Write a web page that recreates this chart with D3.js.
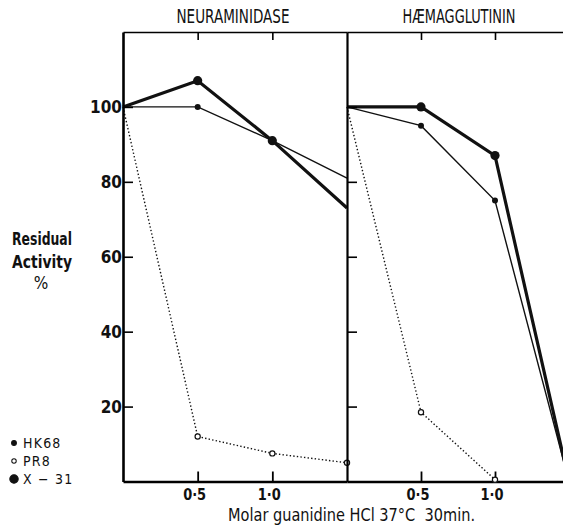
<!DOCTYPE html>
<html>
<head>
<meta charset="utf-8">
<script src="https://cdnjs.cloudflare.com/ajax/libs/d3/7.8.5/d3.min.js"></script>
<style>
  body { margin: 0; background: #fff; }
  svg { display: block; }
  text { font-family: "Liberation Sans Narrow", "DejaVu Sans Condensed", sans-serif; fill: #111; }
</style>
</head>
<body>
<div id="chart"></div>
<script>
// molar guanidine HCl
var doses = [0, 0.5, 1.0, 1.5];
var xTicks = [0.5, 1.0];
var yTicks = [20, 40, 60, 80, 100];

// neuraminidase, % residual activity
var naHK68 = [100, 100, 91, 81];
var naPR8 = [100, 12, 7.5, 5];
var naX31 = [100, 107, 91, 73];

// haemagglutinin
var haHK68 = [100, 95, 75, 0];
var haPR8 = [100, 18.5, 0.5];
var haX31 = [100, 100, 87, 0];

var panels = [
  { title: "NEURAMINIDASE", cx: 233, left: 123, right: 347, hk: naHK68, pr: naPR8, x31: naX31 },
  { title: "HÆMAGGLUTININ", cx: 459, left: 347, right: 569, hk: haHK68, pr: haPR8, x31: haX31 }
];

var width = 563, height = 526;
var plotTop = 32, plotBottom = 481.5;

var svg = d3.select("#chart").append("svg")
  .attr("width", width)
  .attr("height", height);

var y = d3.scaleLinear().domain([0, 120]).range([plotBottom, plotTop]);

function fmt(d) { return d3.format(".1f")(d).replace(".", "·"); }

panels.forEach(function(p, i) {
  var x = d3.scaleLinear().domain([0, 1.5]).range([p.left, p.right]);
  var g = svg.append("g");

  // top axis, ticks pointing down
  g.append("g")
    .attr("transform", "translate(0," + plotTop + ")")
    .call(d3.axisBottom(x).tickValues(xTicks).tickSize(8).tickSizeOuter(0).tickFormat(""))
    .call(function(a) {
      a.select(".domain").attr("stroke-width", 1.6);
      a.selectAll(".tick line").attr("stroke-width", 1.6);
    });

  // bottom axis, ticks pointing up
  g.append("g")
    .attr("transform", "translate(0," + plotBottom + ")")
    .call(d3.axisTop(x).tickValues(xTicks).tickSize(10).tickSizeOuter(0).tickFormat(""))
    .call(function(a) {
      a.select(".domain").attr("stroke-width", 2.6);
      a.selectAll(".tick line").attr("stroke-width", 1.8);
    });

  g.selectAll(".xlab")
    .data(xTicks)
    .enter().append("text")
    .attr("x", function(d) { return x(d) - 3; })
    .attr("y", 500)
    .attr("text-anchor", "middle")
    .attr("font-size", 16)
    .attr("font-weight", "bold")
    .attr("textLength", 23)
    .attr("lengthAdjust", "spacingAndGlyphs")
    .text(fmt);

  // title
  g.append("text")
    .attr("x", p.cx)
    .attr("y", 23)
    .attr("text-anchor", "middle")
    .attr("font-size", 20)
    .attr("textLength", 113)
    .attr("lengthAdjust", "spacingAndGlyphs")
    .text(p.title);

  var line = d3.line()
    .x(function(d, j) { return x(doses[j]); })
    .y(function(d) { return y(d); });

  // PR8: dotted, open circles
  g.append("path")
    .datum(p.pr)
    .attr("fill", "none")
    .attr("stroke", "#111")
    .attr("stroke-width", 1.4)
    .attr("stroke-dasharray", "1.4,2.2")
    .attr("d", line);
  g.selectAll(".pr")
    .data(p.pr.slice(1))
    .enter().append("circle")
    .attr("cx", function(d, j) { return x(doses[j + 1]); })
    .attr("cy", function(d) { return y(d); })
    .attr("r", 2.6)
    .attr("fill", "#fff")
    .attr("stroke", "#111")
    .attr("stroke-width", 1.2);

  // HK68: thin, small dots
  g.append("path")
    .datum(p.hk)
    .attr("fill", "none")
    .attr("stroke", "#111")
    .attr("stroke-width", 1.4)
    .attr("d", line);
  g.selectAll(".hk")
    .data(p.hk.slice(1, 3))
    .enter().append("circle")
    .attr("cx", function(d, j) { return x(doses[j + 1]); })
    .attr("cy", function(d) { return y(d); })
    .attr("r", 3)
    .attr("fill", "#111");

  // X-31: thick, big dots
  g.append("path")
    .datum(p.x31)
    .attr("fill", "none")
    .attr("stroke", "#111")
    .attr("stroke-width", 3.2)
    .attr("d", line);
  g.selectAll(".x31")
    .data(p.x31.slice(1, 3))
    .enter().append("circle")
    .attr("cx", function(d, j) { return x(doses[j + 1]); })
    .attr("cy", function(d) { return y(d); })
    .attr("r", 4.6)
    .attr("fill", "#111");
});

// left axis, ticks inward, labels outside
svg.append("g")
  .attr("transform", "translate(123,0)")
  .call(d3.axisLeft(y).tickValues(yTicks).tickSize(-10).tickSizeOuter(0).tickPadding(12).tickFormat(d3.format("d")))
  .call(function(a) {
    a.select(".domain").attr("stroke-width", 2.6);
    a.selectAll(".tick line").attr("stroke-width", 1.6);
    a.selectAll(".tick text")
      .attr("x", -1)
      .attr("font-size", 17)
      .attr("font-weight", "bold")
      .attr("font-family", "Liberation Sans Narrow, DejaVu Sans Condensed, sans-serif")
      .attr("fill", "#111");
  });

// middle divider and right edge with crossing ticks
[347, 569].forEach(function(m) {
  var a = svg.append("g").attr("transform", "translate(" + m + ",0)");
  a.call(d3.axisLeft(y).tickValues(yTicks).tickSize(10).tickSizeOuter(0).tickFormat(""));
  a.call(d3.axisRight(y).tickValues(yTicks).tickSize(10).tickSizeOuter(0).tickFormat(""));
  a.selectAll(".domain").attr("stroke-width", 2.2);
  a.selectAll(".tick line").attr("stroke-width", 1.6);
});

// y axis title
var yt = svg.append("text")
  .attr("text-anchor", "middle")
  .attr("font-size", 17)
  .attr("font-weight", "bold");
yt.append("tspan").attr("x", 42).attr("y", 245).attr("textLength", 60).attr("lengthAdjust", "spacingAndGlyphs").text("Residual");
yt.append("tspan").attr("x", 42).attr("y", 268).attr("textLength", 60).attr("lengthAdjust", "spacingAndGlyphs").text("Activity");
yt.append("tspan").attr("x", 41).attr("y", 289).attr("font-weight", "normal").text("%");

// x axis title
svg.append("text")
  .attr("x", 228)
  .attr("y", 521)
  .attr("font-size", 17)
  .attr("textLength", 247)
  .attr("lengthAdjust", "spacingAndGlyphs")
  .style("white-space", "pre")
  .text("Molar guanidine HCl 37°C  30min.");

// legend
var legend = [
  { name: "HK68", r: 2.4, fill: "#111" },
  { name: "PR8", r: 2.2, fill: "#fff" },
  { name: "X − 31", r: 4.2, fill: "#111" }
];
var lg = svg.selectAll(".leg")
  .data(legend)
  .enter().append("g")
  .attr("transform", function(d, i) { return "translate(14," + (443 + i * 18) + ")"; });
lg.append("circle")
  .attr("r", function(d) { return d.r; })
  .attr("fill", function(d) { return d.fill; })
  .attr("stroke", "#111")
  .attr("stroke-width", 1.1);
lg.append("text")
  .attr("x", 9)
  .attr("y", 5)
  .attr("font-size", 14)
  .attr("letter-spacing", 1.2)
  .text(function(d) { return d.name; });
</script>
</body>
</html>
